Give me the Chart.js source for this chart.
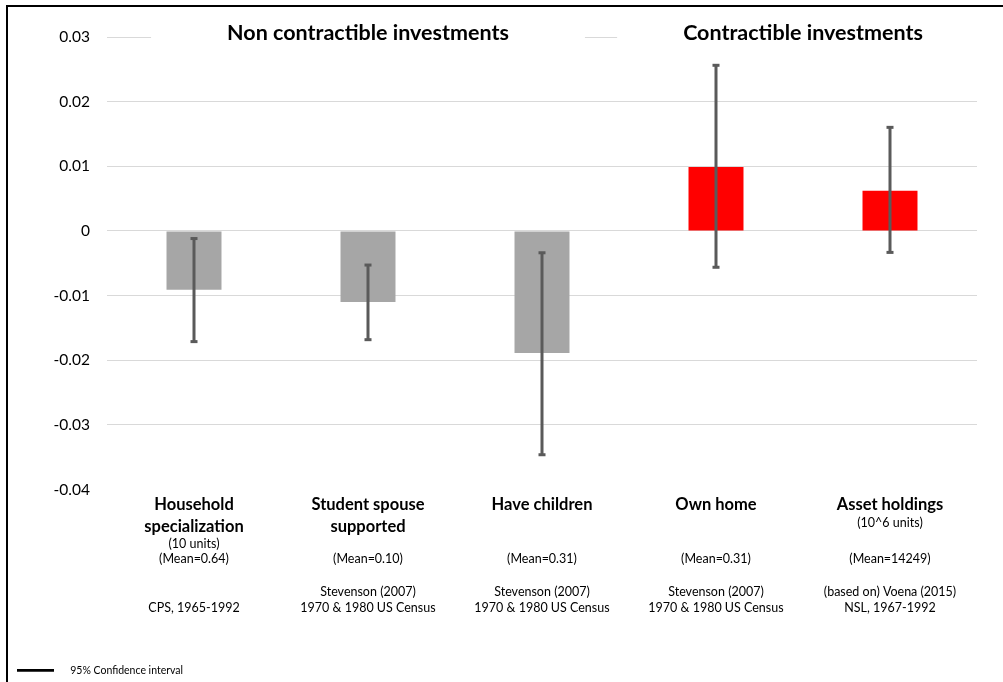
<!DOCTYPE html>
<html>
<head>
<meta charset="utf-8">
<script src="https://cdn.jsdelivr.net/npm/chart.js@4.4.0/dist/chart.umd.min.js"></script>
<style>
  body { margin: 0; background: #fff; }
  .wrap { position: relative; width: 1003px; height: 682px; }
  .frame {
    position: absolute; left: 6px; top: 5px; right: 0; bottom: 0;
    border-left: 2px solid #000; border-top: 2px solid #000;
    pointer-events: none;
  }
</style>
</head>
<body>
<div class="wrap">
  <canvas id="chart" width="1003" height="682"></canvas>
  <div class="frame"></div>
</div>
<script>
// category names (bold, one entry per line)
const nameLines = [
  ['Household', 'specialization'],
  ['Student spouse', 'supported'],
  ['Have children'],
  ['Own home'],
  ['Asset holdings']
];
const unitNotes = ['(10 units)', '', '', '', '(10^6 units)'];
const meanNotes = ['(Mean=0.64)', '(Mean=0.10)', '(Mean=0.31)', '(Mean=0.31)', '(Mean=14249)'];
const sourceLines = [
  ['CPS, 1965-1992'],
  ['Stevenson (2007)', '1970 & 1980 US Census'],
  ['Stevenson (2007)', '1970 & 1980 US Census'],
  ['Stevenson (2007)', '1970 & 1980 US Census'],
  ['(based on) Voena (2015)', 'NSL, 1967-1992']
];

// point estimates and 95% confidence bounds
const estimates = [-0.0091, -0.0110, -0.0189, 0.0099, 0.0062];
const ciLow  = [-0.0172, -0.0169, -0.0347, -0.0057, -0.0034];
const ciHigh = [-0.0011, -0.0052, -0.0033, 0.0257, 0.0161];
const contractible = [false, false, false, true, true];

// group headings and the categories each one spans
const groupTitles = ['Non contractible investments', 'Contractible investments'];
const groupFirst = [0, 3];
const groupLast = [2, 4];

const yMin = -0.04, yMax = 0.03, yStep = 0.01;

const FONT = 'Lato';

// black bar used as the legend swatch
const ciSwatch = document.createElement('canvas');
ciSwatch.width = 48;
ciSwatch.height = 4;
const sw = ciSwatch.getContext('2d');
sw.fillStyle = '#000';
sw.fillRect(0, 0, 37, 3);

const errorBars = {
  id: 'errorBars',
  afterDatasetsDraw(chart) {
    const { ctx, scales: { x, y } } = chart;
    ctx.save();
    ctx.fillStyle = '#5a5a5a';
    estimates.forEach((_, i) => {
      const cx = Math.round(x.getPixelForValue(i));
      const top = y.getPixelForValue(ciHigh[i]);
      const bot = y.getPixelForValue(ciLow[i]);
      ctx.fillRect(cx - 1.5, top, 3, bot - top);
      ctx.fillRect(cx - 3.5, top - 1, 7, 3);
      ctx.fillRect(cx - 3.5, bot - 2, 7, 3);
    });
    ctx.restore();
  }
};

const groupHeadings = {
  id: 'groupHeadings',
  afterDraw(chart) {
    const { ctx, chartArea, scales: { x } } = chart;
    ctx.save();
    ctx.font = 'bold 21.5px ' + FONT;
    ctx.textAlign = 'center';
    ctx.textBaseline = 'middle';
    const ty = chartArea.top - 4;
    groupTitles.forEach((t, g) => {
      const cx = x.getPixelForValue((groupFirst[g] + groupLast[g]) / 2);
      const half = ctx.measureText(t).width / 2 + 76 - g * 10;
      ctx.fillStyle = '#fff';
      ctx.fillRect(cx - half, ty - 15, half * 2, 28);
      ctx.fillStyle = '#000';
      ctx.fillText(t, cx, ty);
    });
    ctx.restore();
  }
};

const categoryNotes = {
  id: 'categoryNotes',
  afterDraw(chart) {
    const { ctx, chartArea, scales: { x } } = chart;
    const base = chartArea.bottom;
    ctx.save();
    ctx.font = '12.5px ' + FONT;
    ctx.textAlign = 'center';
    ctx.textBaseline = 'middle';
    ctx.fillStyle = '#000';
    nameLines.forEach((names, i) => {
      const cx = x.getPixelForValue(i);
      if (unitNotes[i]) {
        ctx.fillText(unitNotes[i], cx, base + 15 + (names.length - 1) * 21 + 18);
      }
      ctx.fillText(meanNotes[i], cx, base + 69);
      const src = sourceLines[i];
      src.forEach((s, k) => {
        ctx.fillText(s, cx, base + 118 - (src.length - 1 - k) * 16);
      });
    });
    ctx.restore();
  }
};

new Chart(document.getElementById('chart'), {
  type: 'bar',
  data: {
    labels: nameLines,
    datasets: [{
      data: estimates,
      backgroundColor: contractible.map(c => c ? '#ff0000' : '#a6a6a6'),
      borderWidth: 0,
      barPercentage: 0.316,
      categoryPercentage: 1
    }]
  },
  options: {
    responsive: false,
    animation: false,
    devicePixelRatio: 1,
    layout: { padding: { top: 37, right: 26, left: 7, bottom: -4 } },
    scales: {
      x: {
        grid: { display: false, drawTicks: false },
        border: { display: false },
        ticks: {
          color: '#000',
          padding: 5,
          maxRotation: 0,
          autoSkip: false,
          font: { family: FONT, size: 16.5, weight: 'bold', lineHeight: 1.28 }
        },
        afterFit(scale) { scale.height = 166; }
      },
      y: {
        min: yMin,
        max: yMax,
        grid: {
          drawTicks: false,
          color: c => c.index === 0 ? 'rgba(0,0,0,0)' : '#d9d9d9'
        },
        border: { display: false },
        ticks: {
          stepSize: yStep,
          padding: 17,
          color: '#000',
          font: { family: FONT, size: 15.5 },
          callback: v => Math.abs(v) < 1e-9 ? '0' : v.toFixed(2)
        },
        afterFit(scale) { scale.width = 100; }
      }
    },
    plugins: {
      tooltip: { enabled: false },
      legend: {
        position: 'bottom',
        align: 'start',
        onClick: null,
        labels: {
          usePointStyle: true,
          pointStyleWidth: 48,
          padding: 10,
          color: '#000',
          font: { family: FONT, size: 10.5 },
          generateLabels: () => [{
            text: '95% Confidence interval',
            pointStyle: ciSwatch,
            fillStyle: '#000',
            strokeStyle: '#000',
            lineWidth: 0,
            hidden: false
          }]
        }
      }
    }
  },
  plugins: [errorBars, groupHeadings, categoryNotes]
});
</script>
</body>
</html>
